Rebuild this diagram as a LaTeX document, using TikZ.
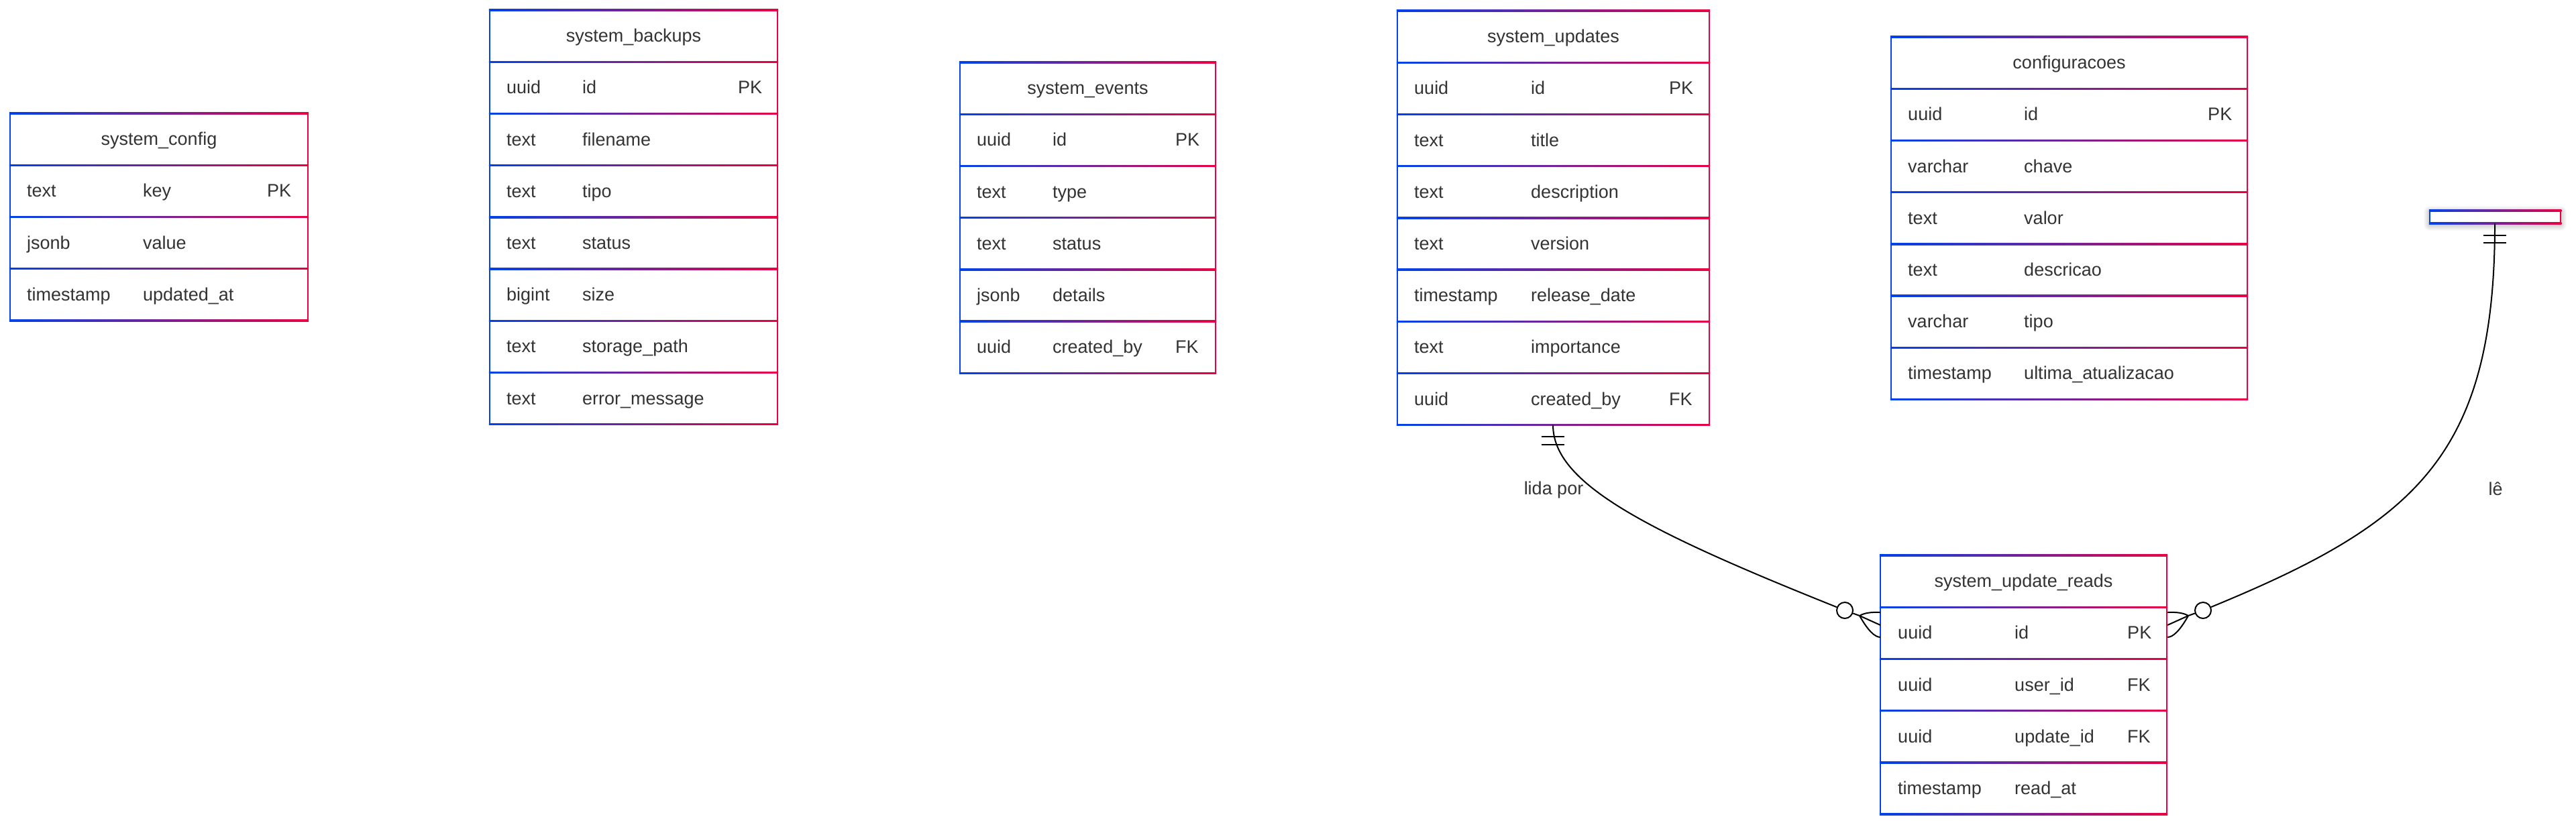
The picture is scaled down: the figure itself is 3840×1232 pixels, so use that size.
\documentclass[tikz,border=0pt]{standalone}
\usepackage{fontspec}
\setmainfont{Liberation Sans}
\usetikzlibrary{calc}
\definecolor{gA}{HTML}{0042EB}
\definecolor{gB}{HTML}{EB0042}
\definecolor{txtc}{HTML}{333333}
\newcommand\ertablebox[4]{%
  \pgfmathsetmacro\tbB{#3+#4*77.2}%
  \foreach \k in {0,...,#4}{%
    \pgfmathsetmacro\yy{#3+\k*77.2}%
    \shade[left color=gA,right color=gB] (#1-1.2,\yy-1.2) rectangle (#2+1.2,\yy+1.2);%
  }%
  \fill[gA] (#1-1.2,#3-1.2) rectangle (#1+1.2,\tbB+1.2);%
  \fill[gB] (#2-1.2,#3-1.2) rectangle (#2+1.2,\tbB+1.2);%
}
\newcommand\errow[9]{%
  \pgfmathsetmacro\yb{#3+#2*77.2+38.6+9}%
  \node[txt,anchor=base west] (#1-#2-t) at (#4,\yb) {#7};%
  \node[txt,anchor=base west] (#1-#2-n) at (#5,\yb) {#8};%
  \node[txt,anchor=base west] (#1-#2-k) at (#6,\yb) {#9};%
}
\newcommand\erhead[5]{%
  \pgfmathsetmacro\yb{#4+38.6+9}%
  \pgfmathsetmacro\xc{(#2+#3)/2}%
  \node[txt,anchor=base] (#1-h) at (\xc,\yb) {#5};%
}
\begin{document}
\begin{tikzpicture}[x=1pt,y=-1pt,
  txt/.style={font=\fontsize{27}{32}\selectfont, text=txtc, inner sep=0pt},
  lbl/.style={font=\fontsize{27}{32}\selectfont, text=txtc, inner sep=1pt},
  conn/.style={draw=black, line width=2pt},
  mk/.style={circle, draw=black, line width=2pt, fill=white, minimum size=24pt, inner sep=0pt}]
\fill[white] (0,0) rectangle (3840,1232);
\useasboundingbox (0,0) rectangle (3840,1232);

% system_config
\ertablebox{15}{459}{169}{4}
\erhead{cfg}{15}{459}{169}{system\_config}
\errow{cfg}{1}{169}{40}{213}{398}{text}{key}{PK}
\errow{cfg}{2}{169}{40}{213}{398}{jsonb}{value}{}
\errow{cfg}{3}{169}{40}{213}{398}{timestamp}{updated\_at}{}

% system_backups
\ertablebox{730}{1159}{15}{8}
\erhead{bk}{730}{1159}{15}{system\_backups}
\errow{bk}{1}{15}{755}{868}{1100}{uuid}{id}{PK}
\errow{bk}{2}{15}{755}{868}{1100}{text}{filename}{}
\errow{bk}{3}{15}{755}{868}{1100}{text}{tipo}{}
\errow{bk}{4}{15}{755}{868}{1100}{text}{status}{}
\errow{bk}{5}{15}{755}{868}{1100}{bigint}{size}{}
\errow{bk}{6}{15}{755}{868}{1100}{text}{storage\_path}{}
\errow{bk}{7}{15}{755}{868}{1100}{text}{error\_message}{}

% system_events
\ertablebox{1431}{1812}{93}{6}
\erhead{ev}{1431}{1812}{93}{system\_events}
\errow{ev}{1}{93}{1456}{1569}{1752}{uuid}{id}{PK}
\errow{ev}{2}{93}{1456}{1569}{1752}{text}{type}{}
\errow{ev}{3}{93}{1456}{1569}{1752}{text}{status}{}
\errow{ev}{4}{93}{1456}{1569}{1752}{jsonb}{details}{}
\errow{ev}{5}{93}{1456}{1569}{1752}{uuid}{created\_by}{FK}

% system_updates
\ertablebox{2083}{2548}{16}{8}
\erhead{up}{2083}{2548}{16}{system\_updates}
\errow{up}{1}{16}{2108}{2282}{2488}{uuid}{id}{PK}
\errow{up}{2}{16}{2108}{2282}{2488}{text}{title}{}
\errow{up}{3}{16}{2108}{2282}{2488}{text}{description}{}
\errow{up}{4}{16}{2108}{2282}{2488}{text}{version}{}
\errow{up}{5}{16}{2108}{2282}{2488}{timestamp}{release\_date}{}
\errow{up}{6}{16}{2108}{2282}{2488}{text}{importance}{}
\errow{up}{7}{16}{2108}{2282}{2488}{uuid}{created\_by}{FK}

% configuracoes
\ertablebox{2819}{3350}{55}{7}
\erhead{co}{2819}{3350}{55}{configuracoes}
\errow{co}{1}{55}{2844}{3017}{3291}{uuid}{id}{PK}
\errow{co}{2}{55}{2844}{3017}{3291}{varchar}{chave}{}
\errow{co}{3}{55}{2844}{3017}{3291}{text}{valor}{}
\errow{co}{4}{55}{2844}{3017}{3291}{text}{descricao}{}
\errow{co}{5}{55}{2844}{3017}{3291}{varchar}{tipo}{}
\errow{co}{6}{55}{2844}{3017}{3291}{timestamp}{ultima\_atualizacao}{}

% system_update_reads
\ertablebox{2803}{3230}{828}{5}
\erhead{ur}{2803}{3230}{828}{system\_update\_reads}
\errow{ur}{1}{828}{2829}{3003}{3171}{uuid}{id}{PK}
\errow{ur}{2}{828}{2829}{3003}{3171}{uuid}{user\_id}{FK}
\errow{ur}{3}{828}{2829}{3003}{3171}{uuid}{update\_id}{FK}
\errow{ur}{4}{828}{2829}{3003}{3171}{timestamp}{read\_at}{}

% anonymous small entity with soft shadow
\foreach \i in {1,...,9}{%
  \fill[black,opacity=0.018,rounded corners=\i pt] (3622-\i,314-\i+2) rectangle (3817+\i,333+\i+2);
}
\fill[white] (3622,314) rectangle (3817,333);
\shade[left color=gA,right color=gB] (3622-1.2,314-1.2) rectangle (3817+1.2,314+1.2);
\shade[left color=gA,right color=gB] (3622-1.2,333-1.2) rectangle (3817+1.2,333+1.2);
\fill[gA] (3622-1.2,314-1.2) rectangle (3622+1.2,333+1.2);
\fill[gB] (3817-1.2,314-1.2) rectangle (3817+1.2,333+1.2);

% connector coordinates
\coordinate (up-b) at (2315,633.6);
\coordinate (an-b) at (3719,333);
\node[mk] (c1) at (2750,910) {};
\node[mk] (c2) at (3284,910) {};
\coordinate (v1) at (2772,918);
\coordinate (v2) at (3262,918);
\coordinate (e1a) at (2803,913);
\coordinate (e1b) at (2803,932);
\coordinate (e1c) at (2803,950);
\coordinate (e2a) at (3231,913);
\coordinate (e2b) at (3231,932);
\coordinate (e2c) at (3231,950);

% connector: system_updates -> system_update_reads
\draw[conn] (up-b) .. controls (2315,720) and (2450,790) .. (c1);
\draw[conn] ($(up-b)+(-17,17)$) -- ($(up-b)+(17,17)$);
\draw[conn] ($(up-b)+(-17,29)$) -- ($(up-b)+(17,29)$);
\draw[conn] (c1) -- (v1) -- (e1b);
\draw[conn] (v1) .. controls (2778.7,914) and (2789,912.3) .. (e1a);
\draw[conn] (v1) .. controls (2784,939.3) and (2794.3,950) .. (e1c);
\node[lbl] (l1) at (2316,731) {lida por};

% connector: anonymous entity -> system_update_reads
\draw[conn] (an-b) .. controls (3719,680) and (3600,780) .. (c2);
\draw[conn] ($(an-b)+(-17,18)$) -- ($(an-b)+(17,18)$);
\draw[conn] ($(an-b)+(-17,29)$) -- ($(an-b)+(17,29)$);
\draw[conn] (c2) -- (v2) -- (e2b);
\draw[conn] (v2) .. controls (3255.3,914) and (3245,912.3) .. (e2a);
\draw[conn] (v2) .. controls (3250,939.3) and (3239.7,950) .. (e2c);
\node[lbl] (l2) at (3720,729) {lê};
\end{tikzpicture}
\end{document}
